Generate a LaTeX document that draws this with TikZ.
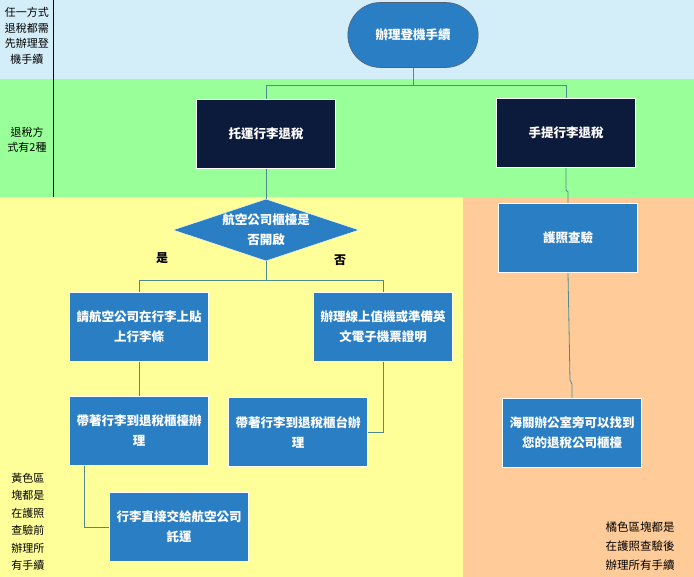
\documentclass[tikz,border=0pt]{standalone}
\usepackage{fontspec}
\setmainfont{Noto Sans CJK TC}
\usetikzlibrary{shapes.geometric,shapes.misc}
\definecolor{bandblue}{HTML}{D4EEF9}
\definecolor{bandgreen}{HTML}{99FF99}
\definecolor{bandyellow}{HTML}{FFFF99}
\definecolor{bandorange}{HTML}{FFCC99}
\definecolor{boxblue}{HTML}{2A7FC4}
\definecolor{boxdark}{HTML}{0C1A3B}
\definecolor{wire}{HTML}{4E8C8C}
\tikzset{
  box/.style={rectangle,fill=boxblue,draw=white,line width=0.8pt,minimum width=139pt,minimum height=69pt,align=center,text=white,font=\bfseries\fontsize{12.5}{20}\selectfont},
  darkbox/.style={box,fill=boxdark},
  decide/.style={diamond,fill=boxblue,draw=white,aspect=3,minimum width=186pt,minimum height=62pt,inner sep=0pt,align=center,text=white,font=\bfseries\fontsize{12.5}{20}\selectfont},
  term/.style={rounded rectangle,fill=boxblue,draw=boxdark!70,line width=0.6pt,minimum width=137pt,minimum height=65pt,text=white,font=\bfseries\fontsize{12.5}{14}\selectfont},
  lbl/.style={align=center,font=\fontsize{11}{15.5}\selectfont},
  wirel/.style={draw=wire,line width=0.8pt}
}
\begin{document}
\begin{tikzpicture}[x=1pt,y=-1pt]
\useasboundingbox (0,0) rectangle (694,577);
\fill[bandblue] (0,0) rectangle (694,79);
\fill[bandgreen] (0,79) rectangle (694,197);
\fill[bandyellow] (0,197) rectangle (463,577);
\fill[bandorange] (463,197) rectangle (694,577);
\draw[line width=0.8pt] (53,0) -- (53,197);

\node[lbl] (l1) at (27,36) {任一方式\\退稅都需\\先辦理登\\機手續};
\node[lbl] (l2) at (27,140) {退稅方\\式有2種};
\node[lbl,align=left,font=\fontsize{11}{17.5}\selectfont] (l3) at (28,522) {黃色區\\塊都是\\在護照\\查驗前\\辦理所\\有手續};
\node[lbl,align=left,font=\fontsize{11.5}{19}\selectfont] (l4) at (640,546) {橘色區塊都是\\在護照查驗後\\辦理所有手續};

\node[term] (start) at (413,35) {辦理登機手續};
\node[darkbox] (check) at (266,134) {托運行李退稅};
\node[darkbox] (carry) at (566,133) {手提行李退稅};
\node[decide] (q) at (266,230) {航空公司櫃檯是\\否開啟};
\node[font=\bfseries\fontsize{12}{13}\selectfont] (yes) at (162,258) {是};
\node[font=\bfseries\fontsize{12}{13}\selectfont] (no) at (340,260) {否};
\node[box] (tag) at (139,327) {請航空公司在行李上貼\\上行李條};
\node[box] (online) at (383,327) {辦理線上值機或準備英\\文電子機票證明};
\node[box] (desk1) at (139,431) {帶著行李到退稅櫃檯辦\\理};
\node[box] (desk2) at (298,432) {帶著行李到退稅櫃台辦\\理};
\node[box] (hand) at (179,527) {行李直接交給航空公司\\託運};
\node[box] (pass) at (568,238) {護照查驗};
\node[box] (customs) at (572,433) {海關辦公室旁可以找到\\您的退稅公司櫃檯};

\begin{scope}[wirel]
\draw (start.south) -- (413,85) -| (check.north);
\draw (413,85) -| (carry.north);
\draw (check.south) -- (q.north);
\draw (q.south) -- (266,280) -| (tag.north);
\draw (266,280) -| (online.north);
\draw (tag.south) -- (desk1.north);
\draw (online.south) |- (desk2.east);
\draw (84,466) |- (hand.west);
\draw (carry.south) -- (566,190) -- (568,192) -- (pass.north);
\draw (pass.south) -- (570,380) -- (572,384) -- (customs.north);
\end{scope}
\end{tikzpicture}
\end{document}
